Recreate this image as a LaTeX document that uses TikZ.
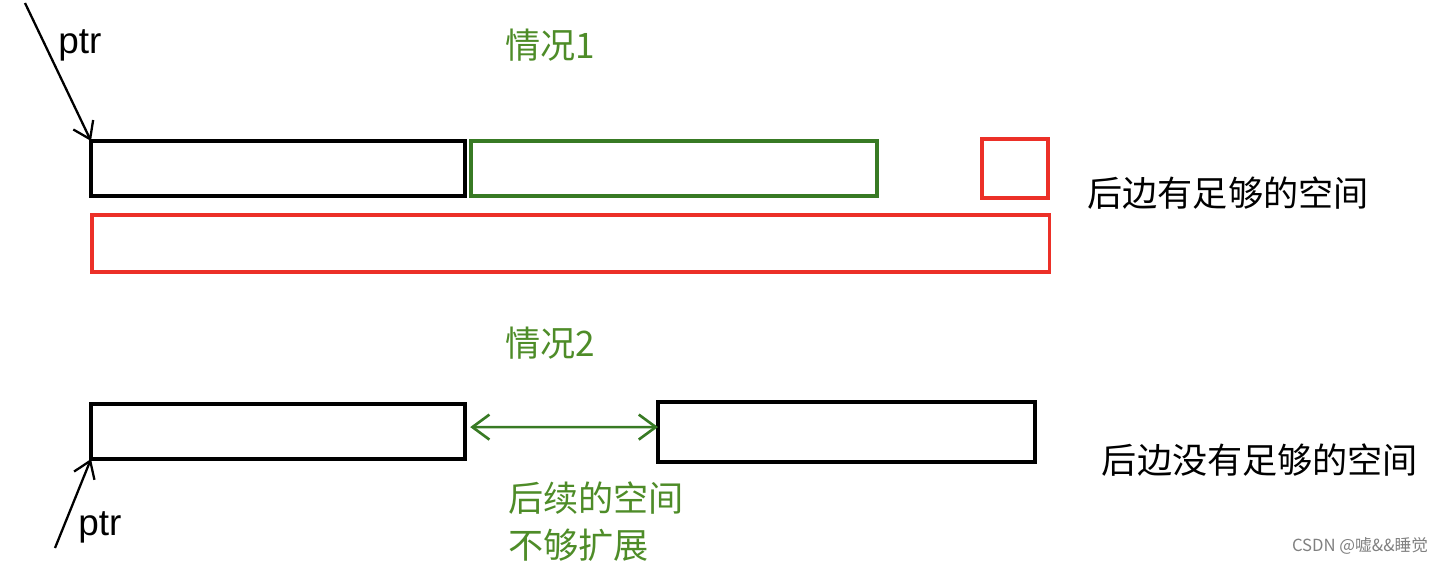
\documentclass[tikz,border=0pt]{standalone}
\usepackage{fontspec}
\setmainfont{Liberation Sans}
\newfontfamily\cjk{Noto Sans CJK SC}
\usetikzlibrary{arrows.meta}
\definecolor{boxgreen}{RGB}{56,122,36}
\definecolor{txtgreen}{RGB}{78,140,40}
\definecolor{boxred}{RGB}{236,48,40}

\begin{document}
\begin{tikzpicture}[x=0.02cm, y=-0.02cm, every node/.style={font=\fontsize{20}{24}\selectfont\cjk},
	box/.style={draw, line width=1.9pt, inner sep=0pt, outer sep=0pt, anchor=north west},
	ptrarrow/.style={-{Straight Barb[length=3.2mm, width=4.4mm]}, line width=1.3pt},
	>={Straight Barb[length=3.4mm, width=5mm]}]
	\useasboundingbox (0,0) rectangle (1444,564);
	% case 1
	\node[txtgreen] (t1) at (550,45) {情况1};
	\node[box, minimum width=7.48cm, minimum height=1.1cm] (old1) at (91,141) {};
	\node[box, draw=boxgreen, minimum width=8.12cm, minimum height=1.1cm] (add1) at (471,141) {};
	\node[box, draw=boxred, minimum width=1.32cm, minimum height=1.18cm] (sm1) at (982,139) {};
	\node[box, draw=boxred, minimum width=19.16cm, minimum height=1.14cm] (new1) at (92,215) {};
	\node (c1) at (1228,193) {后边有足够的空间};
	\coordinate (p1) at (25,3);
	\draw[ptrarrow] (p1) -- (old1.north west);
	\node[font=\fontsize{21}{24}\selectfont] (ptr1) at (80,45) {ptr};
	% case 2
	\node[txtgreen] (t2) at (550,343) {情况2};
	\node[box, minimum width=7.48cm, minimum height=1.1cm] (old2) at (91,404) {};
	\node[box, minimum width=7.54cm, minimum height=1.2cm] (blk2) at (658,402) {};
	\draw[<->, boxgreen, line width=1.5pt] ([xshift=3pt, yshift=2.5pt]old2.east) -- ([yshift=2.8pt]blk2.west);
	\node[txtgreen, align=left, anchor=north west, inner sep=0pt, font=\fontsize{20}{27}\selectfont\cjk] (gap) at (508,481) {后续的空间\\不够扩展};
	\node (c2) at (1260,460) {后边没有足够的空间};
	\coordinate (p2) at (55,548);
	\draw[ptrarrow] (p2) -- (old2.south west);
	\node[font=\fontsize{21}{24}\selectfont] (ptr2) at (100,527) {ptr};
	% watermark
	\node[gray, font=\fontsize{9.5}{11}\selectfont\cjk] (wm) at (1360,546) {CSDN @嘘\&\&睡觉};
\end{tikzpicture}
\end{document}
